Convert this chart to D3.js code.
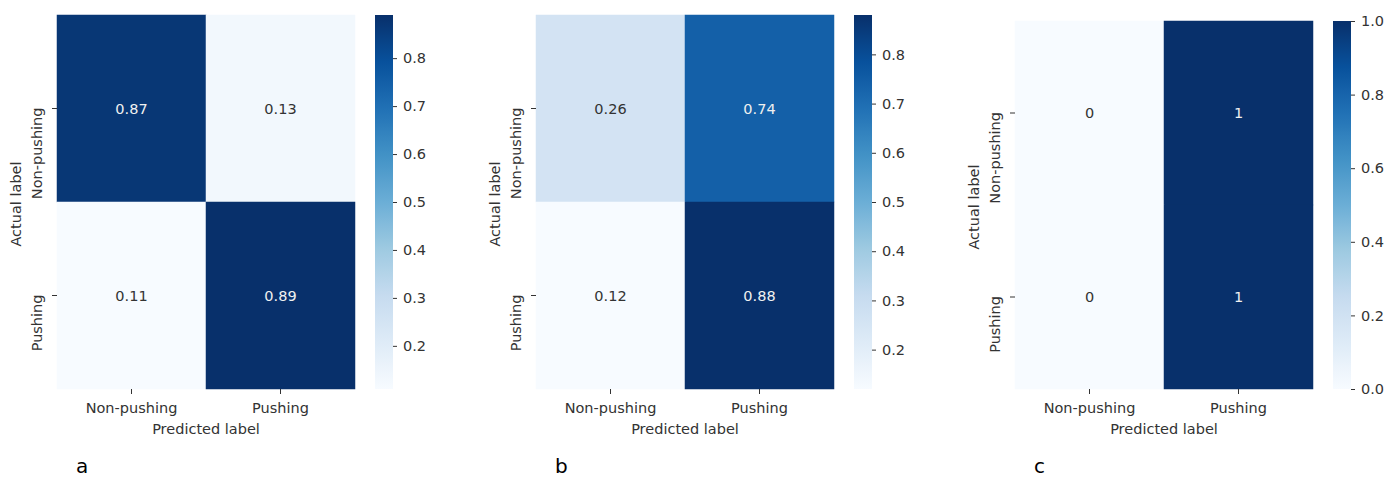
<!DOCTYPE html>
<html>
<head>
<meta charset="utf-8">
<script src="https://cdn.jsdelivr.net/npm/d3@7"></script>
<style>
  html, body { margin: 0; padding: 0; background: #fff; }
  svg { display: block; }
  text { font-family: "DejaVu Sans", sans-serif; }
</style>
</head>
<body>
<svg id="chart" width="1386" height="477"></svg>
<script>
// Class labels shared by all three confusion matrices
const classes = ["Non-pushing", "Pushing"];

// Normalised confusion matrices (rows = actual, columns = predicted)
const matrixA = [[0.87, 0.13], [0.11, 0.89]];
const matrixB = [[0.26, 0.74], [0.12, 0.88]];
const matrixC = [[0, 1], [0, 1]];

// Cell annotation strings
const annotA = [["0.87", "0.13"], ["0.11", "0.89"]];
const annotB = [["0.26", "0.74"], ["0.12", "0.88"]];
const annotC = [["0", "1"], ["0", "1"]];

// Colour bar tick values
const ticksA = [0.2, 0.3, 0.4, 0.5, 0.6, 0.7, 0.8];
const ticksB = [0.2, 0.3, 0.4, 0.5, 0.6, 0.7, 0.8];
const ticksC = [0.0, 0.2, 0.4, 0.6, 0.8, 1.0];

// Panel letters
const panelLetters = ["a", "b", "c"];

// "Blues" sequential palette stops
const bluesStops = ["#f7fbff", "#deebf7", "#c6dbef", "#9ecae1", "#6baed6",
                    "#4292c6", "#2171b5", "#08519c", "#08306b"];

const svg = d3.select("#chart");
const defs = svg.append("defs");
const FS = 14.5;

const blues = d3.scaleLinear()
  .domain(d3.range(bluesStops.length).map(i => i / (bluesStops.length - 1)))
  .range(bluesStops)
  .interpolate(d3.interpolateRgb)
  .clamp(true);

function drawPanel(cfg) {
  const { matrix, annot, ticks, letter, left, top, right, bottom, cbLeft, cbWidth, tickFmt, id } = cfg;
  const flat = matrix.flat();
  const vmin = d3.min(flat), vmax = d3.max(flat);
  const norm = d3.scaleLinear().domain([vmin, vmax]).range([0, 1]);
  const color = v => blues(norm(v));

  const x = d3.scaleBand().domain(classes).range([left, right]);
  const y = d3.scaleBand().domain(classes).range([top, bottom]);

  const g = svg.append("g");

  // Heatmap cells
  const cells = [];
  matrix.forEach((row, i) => row.forEach((v, j) => cells.push({ r: classes[i], c: classes[j], v, t: annot[i][j] })));

  g.selectAll("rect.cell").data(cells).join("rect")
    .attr("class", "cell")
    .attr("x", d => x(d.c)).attr("y", d => y(d.r))
    .attr("width", x.bandwidth()).attr("height", y.bandwidth())
    .attr("fill", d => color(d.v))
    .attr("stroke", d => color(d.v)).attr("stroke-width", 0.5);

  // Cell annotations: light text on dark cells
  g.selectAll("text.annot").data(cells).join("text")
    .attr("class", "annot")
    .attr("x", d => x(d.c) + x.bandwidth() / 2)
    .attr("y", d => y(d.r) + y.bandwidth() / 2)
    .attr("text-anchor", "middle")
    .attr("dominant-baseline", "central")
    .attr("font-size", FS)
    .attr("fill", d => {
      const c = d3.rgb(color(d.v));
      const lum = 0.2126 * c.r + 0.7152 * c.g + 0.0722 * c.b;
      return lum < 140 ? "#f0f0f0" : "#333333";
    })
    .text(d => d.t);

  // X axis ticks and labels
  const xa = g.append("g");
  classes.forEach(cl => {
    const cx = x(cl) + x.bandwidth() / 2;
    xa.append("line").attr("x1", cx).attr("x2", cx).attr("y1", bottom).attr("y2", bottom + 5)
      .attr("stroke", "#333").attr("stroke-width", 1);
    xa.append("text").attr("x", cx).attr("y", bottom + 24)
      .attr("text-anchor", "middle").attr("font-size", FS).attr("fill", "#333").text(cl);
  });
  xa.append("text").attr("x", (left + right) / 2).attr("y", bottom + 45)
    .attr("text-anchor", "middle").attr("font-size", FS).attr("fill", "#333").text("Predicted label");

  // Y axis ticks and rotated labels
  const ya = g.append("g");
  classes.forEach(cl => {
    const cy = y(cl) + y.bandwidth() / 2;
    ya.append("line").attr("x1", left - 5).attr("x2", left).attr("y1", cy).attr("y2", cy)
      .attr("stroke", "#333").attr("stroke-width", 1);
    ya.append("text")
      .attr("transform", `translate(${left - 15},${cy - 1}) rotate(-90)`)
      .attr("text-anchor", "end").attr("font-size", FS).attr("fill", "#333").text(cl);
  });
  ya.append("text")
    .attr("transform", `translate(${left - 36},${(top + bottom) / 2 + 2}) rotate(-90)`)
    .attr("text-anchor", "middle").attr("font-size", FS).attr("fill", "#333").text("Actual label");

  // Colour bar
  const gradId = "grad-" + id;
  const grad = defs.append("linearGradient").attr("id", gradId)
    .attr("x1", 0).attr("y1", 1).attr("x2", 0).attr("y2", 0);
  d3.range(0, 1.0001, 1 / 32).forEach(t => {
    grad.append("stop").attr("offset", t).attr("stop-color", blues(t));
  });
  g.append("rect").attr("x", cbLeft).attr("y", top).attr("width", cbWidth).attr("height", bottom - top)
    .attr("fill", `url(#${gradId})`);

  const cbScale = d3.scaleLinear().domain([vmin, vmax]).range([bottom, top]);
  const cbAxis = d3.axisRight(cbScale).tickValues(ticks).tickSize(4).tickPadding(6).tickFormat(tickFmt);
  const cbg = g.append("g").attr("transform", `translate(${cbLeft + cbWidth},0)`).call(cbAxis);
  cbg.select(".domain").remove();
  cbg.selectAll(".tick line").attr("stroke", "#333");
  cbg.selectAll(".tick text").attr("font-size", FS).attr("fill", "#333")
    .attr("font-family", "DejaVu Sans, sans-serif");

  // Panel letter
  svg.append("text").attr("x", left + 19).attr("y", 473)
    .attr("font-family", "Liberation Sans, Arial, sans-serif").attr("font-size", 20)
    .attr("fill", "#000").text(letter);
}

const fmt1 = d3.format(".1f");

drawPanel({ id: "a", matrix: matrixA, annot: annotA, ticks: ticksA, letter: panelLetters[0],
  left: 57, right: 355, top: 15, bottom: 389, cbLeft: 375, cbWidth: 18, tickFmt: fmt1 });
drawPanel({ id: "b", matrix: matrixB, annot: annotB, ticks: ticksB, letter: panelLetters[1],
  left: 536, right: 834, top: 15, bottom: 389, cbLeft: 854, cbWidth: 18, tickFmt: fmt1 });
drawPanel({ id: "c", matrix: matrixC, annot: annotC, ticks: ticksC, letter: panelLetters[2],
  left: 1015, right: 1313, top: 21, bottom: 389, cbLeft: 1333, cbWidth: 18, tickFmt: fmt1 });
</script>
</body>
</html>
